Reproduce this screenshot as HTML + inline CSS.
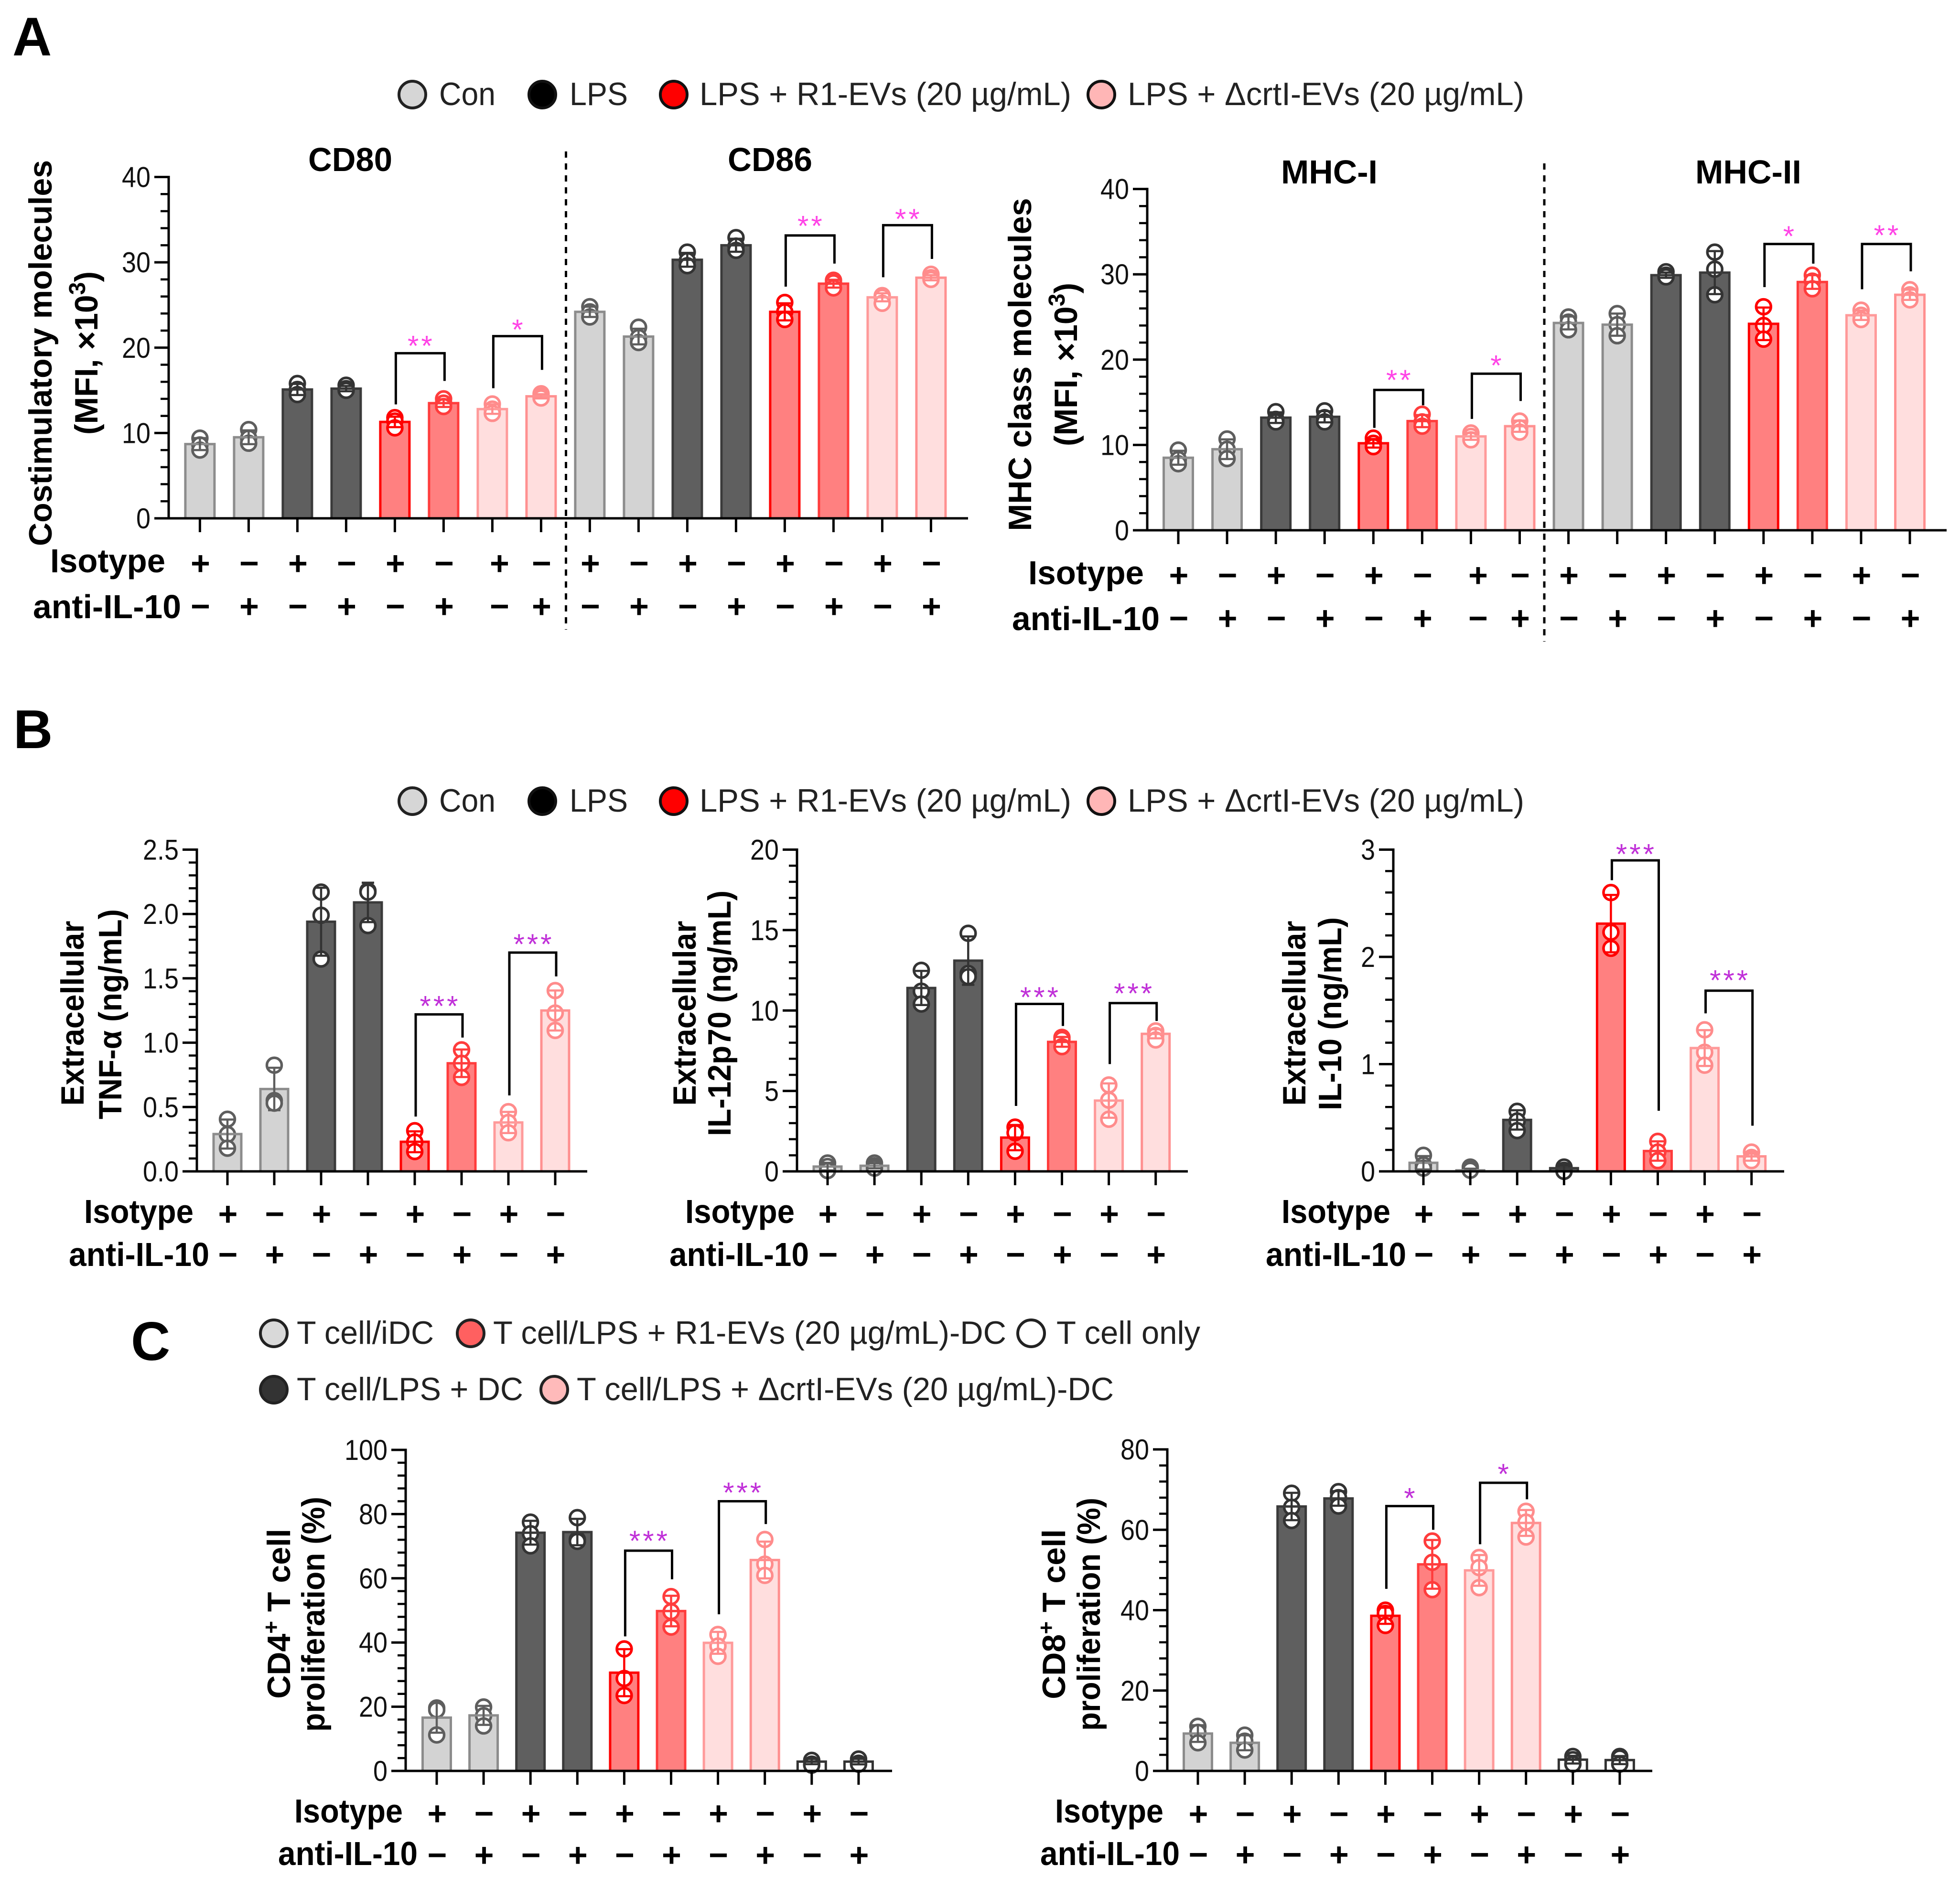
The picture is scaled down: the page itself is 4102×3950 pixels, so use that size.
<!DOCTYPE html>
<html lang="en">
<head>
<meta charset="utf-8">
<title>Costimulatory molecules, cytokines and T cell proliferation</title>
<style>
html,body{margin:0;padding:0;background:#fff;}
svg{display:block;}
text{font-family:"Liberation Sans",sans-serif;}
.b{font-weight:bold;fill:#000;}
.lg{font-size:68px;fill:#222;}
.pl{font-weight:bold;font-size:114px;fill:#000;}
.tt{font-weight:bold;font-size:70px;fill:#000;}
.yt{font-weight:bold;font-size:68px;fill:#000;text-anchor:middle;}
.yt2{font-weight:bold;font-size:68px;fill:#000;text-anchor:middle;}
.rl{font-weight:bold;font-size:70px;fill:#000;}
</style>
</head>
<body>
<svg id="fig" xmlns="http://www.w3.org/2000/svg" width="4102" height="3950" viewBox="0 0 4102 3950">
<rect width="4102" height="3950" fill="#fff"/>

<text class="pl" x="26" y="116">A</text>
<text class="pl" x="28" y="1566">B</text>
<text class="pl" x="274" y="2847">C</text>

<g>
<g><circle cx="863" cy="198" r="28" fill="#d6d6d6" stroke="#222" stroke-width="6"/><text class="lg" x="919" y="220" textLength="118" lengthAdjust="spacingAndGlyphs">Con</text></g>
<g><circle cx="1135" cy="198" r="28" fill="#000" stroke="#111" stroke-width="6"/><text class="lg" x="1192" y="220" textLength="122" lengthAdjust="spacingAndGlyphs">LPS</text></g>
<g><circle cx="1410" cy="198" r="28" fill="#ff0000" stroke="#111" stroke-width="6"/><text class="lg" x="1464" y="220" textLength="778" lengthAdjust="spacingAndGlyphs">LPS + R1-EVs (20 µg/mL)</text></g>
<g><circle cx="2305" cy="198" r="28" fill="#ffb6b6" stroke="#111" stroke-width="6"/><text class="lg" x="2360" y="220" textLength="830" lengthAdjust="spacingAndGlyphs">LPS + ΔcrtI-EVs (20 µg/mL)</text></g>
</g>

<g>
<g><circle cx="863" cy="1677" r="28" fill="#d6d6d6" stroke="#222" stroke-width="6"/><text class="lg" x="919" y="1699" textLength="118" lengthAdjust="spacingAndGlyphs">Con</text></g>
<g><circle cx="1135" cy="1677" r="28" fill="#000" stroke="#111" stroke-width="6"/><text class="lg" x="1192" y="1699" textLength="122" lengthAdjust="spacingAndGlyphs">LPS</text></g>
<g><circle cx="1410" cy="1677" r="28" fill="#ff0000" stroke="#111" stroke-width="6"/><text class="lg" x="1464" y="1699" textLength="778" lengthAdjust="spacingAndGlyphs">LPS + R1-EVs (20 µg/mL)</text></g>
<g><circle cx="2305" cy="1677" r="28" fill="#ffb6b6" stroke="#111" stroke-width="6"/><text class="lg" x="2360" y="1699" textLength="830" lengthAdjust="spacingAndGlyphs">LPS + ΔcrtI-EVs (20 µg/mL)</text></g>
</g>

<g>
<g><circle cx="573" cy="2791" r="28" fill="#d9d9d9" stroke="#222" stroke-width="6"/><text class="lg" x="621" y="2813" textLength="287" lengthAdjust="spacingAndGlyphs">T cell/iDC</text></g>
<g><circle cx="985" cy="2791" r="28" fill="#ff6060" stroke="#222" stroke-width="6"/><text class="lg" x="1032" y="2813" textLength="1074" lengthAdjust="spacingAndGlyphs">T cell/LPS + R1-EVs (20 µg/mL)-DC</text></g>
<g><circle cx="2158" cy="2791" r="28" fill="#fff" stroke="#222" stroke-width="6"/><text class="lg" x="2211" y="2813" textLength="301" lengthAdjust="spacingAndGlyphs">T cell only</text></g>
<g><circle cx="573" cy="2909" r="28" fill="#333" stroke="#222" stroke-width="6"/><text class="lg" x="621" y="2931" textLength="474" lengthAdjust="spacingAndGlyphs">T cell/LPS + DC</text></g>
<g><circle cx="1160" cy="2909" r="28" fill="#ffbaba" stroke="#222" stroke-width="6"/><text class="lg" x="1207" y="2931" textLength="1124" lengthAdjust="spacingAndGlyphs">T cell/LPS + ΔcrtI-EVs (20 µg/mL)-DC</text></g>
</g>

<!-- static chart text -->
<text class="tt" x="645" y="358" textLength="176" lengthAdjust="spacingAndGlyphs">CD80</text>
<text class="tt" x="1523" y="358" textLength="177" lengthAdjust="spacingAndGlyphs">CD86</text>
<text class="tt" x="2681" y="384" textLength="202" lengthAdjust="spacingAndGlyphs">MHC-I</text>
<text class="tt" x="3548" y="384" textLength="222" lengthAdjust="spacingAndGlyphs">MHC-II</text>

<line x1="1184.5" y1="317" x2="1184.5" y2="1318" stroke="#000" stroke-width="5" stroke-dasharray="13 12"/>
<line x1="3232" y1="342" x2="3232" y2="1343" stroke="#000" stroke-width="5" stroke-dasharray="13 12"/>

<text class="yt" transform="translate(108,739) rotate(-90)" textLength="808" lengthAdjust="spacingAndGlyphs">Costimulatory molecules</text>
<text class="yt" transform="translate(204,739) rotate(-90)">(MFI, ×10<tspan dy="-26" font-size="48">3</tspan><tspan dy="26">)</tspan></text>
<text class="yt" transform="translate(2158,763) rotate(-90)" textLength="697" lengthAdjust="spacingAndGlyphs">MHC class molecules</text>
<text class="yt" transform="translate(2254,763) rotate(-90)">(MFI, ×10<tspan dy="-26" font-size="48">3</tspan><tspan dy="26">)</tspan></text>

<text class="yt2" transform="translate(175,2121) rotate(-90)" textLength="387" lengthAdjust="spacingAndGlyphs">Extracellular</text>
<text class="yt2" transform="translate(254,2123) rotate(-90)" textLength="440" lengthAdjust="spacingAndGlyphs">TNF-α (ng/mL)</text>
<text class="yt2" transform="translate(1456,2121) rotate(-90)" textLength="387" lengthAdjust="spacingAndGlyphs">Extracellular</text>
<text class="yt2" transform="translate(1529,2121) rotate(-90)" textLength="514" lengthAdjust="spacingAndGlyphs">IL-12p70 (ng/mL)</text>
<text class="yt2" transform="translate(2732,2121) rotate(-90)" textLength="387" lengthAdjust="spacingAndGlyphs">Extracellular</text>
<text class="yt2" transform="translate(2807,2122) rotate(-90)" textLength="404" lengthAdjust="spacingAndGlyphs">IL-10 (ng/mL)</text>

<text class="yt2" transform="translate(607,3378) rotate(-90)">CD4<tspan dy="-24" font-size="46">+</tspan><tspan dy="24"> T cell</tspan></text>
<text class="yt2" transform="translate(679,3379) rotate(-90)" textLength="492" lengthAdjust="spacingAndGlyphs">proliferation (%)</text>
<text class="yt2" transform="translate(2229,3379) rotate(-90)">CD8<tspan dy="-24" font-size="46">+</tspan><tspan dy="24"> T cell</tspan></text>
<text class="yt2" transform="translate(2302,3379) rotate(-90)" textLength="488" lengthAdjust="spacingAndGlyphs">proliferation (%)</text>

<g>
<text class="rl" x="105" y="1198" textLength="241" lengthAdjust="spacingAndGlyphs">Isotype</text>
<text class="rl" x="69" y="1294" textLength="310" lengthAdjust="spacingAndGlyphs">anti-IL-10</text>
<text class="rl" x="2152" y="1223" textLength="242" lengthAdjust="spacingAndGlyphs">Isotype</text>
<text class="rl" x="2118" y="1319" textLength="309" lengthAdjust="spacingAndGlyphs">anti-IL-10</text>
<text class="rl" x="176" y="2560" textLength="229" lengthAdjust="spacingAndGlyphs">Isotype</text>
<text class="rl" x="144" y="2650" textLength="294" lengthAdjust="spacingAndGlyphs">anti-IL-10</text>
<text class="rl" x="1434" y="2560" textLength="229" lengthAdjust="spacingAndGlyphs">Isotype</text>
<text class="rl" x="1401" y="2650" textLength="292" lengthAdjust="spacingAndGlyphs">anti-IL-10</text>
<text class="rl" x="2682" y="2560" textLength="228" lengthAdjust="spacingAndGlyphs">Isotype</text>
<text class="rl" x="2649" y="2650" textLength="294" lengthAdjust="spacingAndGlyphs">anti-IL-10</text>
<text class="rl" x="616" y="3815" textLength="227" lengthAdjust="spacingAndGlyphs">Isotype</text>
<text class="rl" x="582" y="3904" textLength="292" lengthAdjust="spacingAndGlyphs">anti-IL-10</text>
<text class="rl" x="2208" y="3815" textLength="227" lengthAdjust="spacingAndGlyphs">Isotype</text>
<text class="rl" x="2177" y="3904" textLength="292" lengthAdjust="spacingAndGlyphs">anti-IL-10</text>
</g>
</svg>

<script>
// ---------- shared categories ----------
const isotype16 = ['+','−','+','−','+','−','+','−','+','−','+','−','+','−','+','−'];
const antiIL16 = ['−','+','−','+','−','+','−','+','−','+','−','+','−','+','−','+'];
const isotype8 = ['+','−','+','−','+','−','+','−'];
const antiIL8 = ['−','+','−','+','−','+','−','+'];
const isotype10 = ['+','−','+','−','+','−','+','−','+','−'];
const antiIL10 = ['−','+','−','+','−','+','−','+','−','+'];
const groups16 = ['con','con','lps','lps','r1a','r1b','cra','crb','con','con','lps','lps','r1a','r1b','cra','crb'];
const groups8 = ['con','con','lps','lps','r1a','r1b','cra','crb'];
const groups10 = ['con','con','lps','lps','r1a','r1b','cra','crb','only','only'];

// ---------- chart A left: CD80 / CD86 ----------
const costimValues = [8.7,9.5,15.1,15.2,11.3,13.5,12.8,14.3,24.2,21.3,30.3,32.0,24.2,27.5,25.9,28.2];
const costimPoints = [[9.4,8.6,8.0],[10.4,9.4,8.8],[15.8,15.1,14.5],[15.6,15.2,15.0],[11.8,11.4,10.6],[14.0,13.5,13.1],[13.4,12.8,12.3],[14.6,14.3,14.1],[24.8,24.2,23.6],[22.4,21.2,20.6],[31.2,30.2,29.6],[32.9,31.9,31.4],[25.3,24.2,23.3],[27.9,27.6,27.0],[26.1,25.9,25.2],[28.6,28.2,28.0]];
const costimTicks = [0,10,20,30,40];
const costimTickLabels = ['0','10','20','30','40'];
const costimBrackets = [[4,5,19.35,13.35,16.1,'**',20.75],[6,7,21.35,15.25,17.4,'*',22.65],[12,13,33.15,27.15,29.85,'**',34.8],[14,15,34.35,28.25,30.4,'**',35.6]];

// ---------- chart A right: MHC ----------
const mhcValues = [8.5,9.5,13.2,13.3,10.2,12.8,11.0,12.2,24.3,24.1,29.9,30.2,24.2,29.1,25.2,27.6];
const mhcPoints = [[9.4,8.3,7.8],[10.7,9.5,8.4],[13.9,13.0,12.7],[14.0,13.2,12.7],[10.8,10.2,9.8],[13.6,12.7,12.2],[11.4,11.0,10.6],[12.8,12.0,11.5],[25.0,24.4,23.5],[25.4,24.1,22.8],[30.3,29.9,29.7],[32.6,30.6,27.6],[26.2,24.0,22.4],[29.9,29.2,28.3],[25.8,25.2,24.7],[28.2,27.6,27.0]];
const mhcTicks = [0,10,20,30,40];
const mhcTickLabels = ['0','10','20','30','40'];
const mhcBrackets = [[4,5,16.45,12,14.65,'**',18.15],[6,7,18.35,13.05,15.15,'*',19.85],[12,13,33.55,28.5,31.25,'*',35],[14,15,33.55,28.25,30.35,'**',35.1]];

// ---------- chart B1: TNF-alpha ----------
const tnfValues = [0.29,0.64,1.94,2.09,0.23,0.84,0.38,1.25];
const tnfPoints = [[0.405,0.287,0.18],[0.825,0.55,0.53],[2.17,1.99,1.65],[2.18,2.17,1.91],[0.316,0.228,0.154],[0.944,0.84,0.73],[0.464,0.38,0.30],[1.405,1.23,1.095]];
const tnfTicks = [0,0.5,1,1.5,2,2.5];
const tnfTickLabels = ['0.0','0.5','1.0','1.5','2.0','2.5'];
const tnfBrackets = [[4,5,1.22,0.426,1.04,'***',1.32],[6,7,1.70,0.59,1.515,'***',1.80]];

// ---------- chart B2: IL-12p70 ----------
const il12Values = [0.3,0.35,11.4,13.1,2.1,8.05,4.4,8.55];
const il12Points = [[0.52,0.3,0.05],[0.52,0.35,0.2],[12.5,11.2,10.4],[14.8,12.3,12.1],[2.75,2.4,1.25],[8.33,8.2,7.75],[5.37,4.43,3.24],[8.73,8.45,8.17]];
const il12Ticks = [0,5,10,15,20];
const il12TickLabels = ['0','5','10','15','20'];
const il12Brackets = [[4,5,10.41,4.07,9.04,'***',11.1],[6,7,10.46,6.67,9.35,'***',11.34]];

// ---------- chart B3: IL-10 ----------
const il10Values = [0.08,0.01,0.48,0.03,2.31,0.19,1.15,0.14];
const il10Points = [[0.15,0.06,0.03],[0.04,0.02,0.01],[0.56,0.47,0.38],[0.04,0.01,0.0],[2.6,2.23,2.08],[0.28,0.18,0.1],[1.32,1.11,0.99],[0.18,0.13,0.1]];
const il10Ticks = [0,1,2,3];
const il10TickLabels = ['0','1','2','3'];
const il10Brackets = [[4,5,2.90,2.715,0.565,'***',3.0],[6,7,1.685,1.473,0.426,'***',1.825]];

// ---------- chart C1: CD4 ----------
const cd4Values = [16.6,17.3,74.2,74.4,30.6,49.8,39.9,65.7,2.9,2.9];
const cd4Points = [[19.6,19.0,11.2],[19.9,17.2,14.0],[77.5,73.9,70.1],[78.9,72.1,71.5],[38,28.8,23.5],[54.3,49.6,44.8],[42.5,38.9,35.7],[72.1,64.4,60.9],[3.3,2.1,1.8],[3.7,2.4,2.1]];
const cd4Ticks = [0,20,40,60,80,100];
const cd4TickLabels = ['0','20','40','60','80','100'];
const cd4Brackets = [[4,5,68.6,41.9,59.7,'***',73.1],[6,7,84,48.8,76.9,'***',88.1]];

// ---------- chart C2: CD8 ----------
const cd8Values = [9.3,7.0,65.8,67.8,38.6,51.4,49.9,61.7,2.8,2.7];
const cd8Points = [[11.1,9.6,7.0],[8.9,7.4,5.2],[69.1,65.6,62.3],[69.5,68,65.9],[40,39.2,36.2],[57.2,51.9,45.1],[53.1,50.6,45.6],[64.6,61.9,58.2],[3.6,2.8,1.7],[3.6,3.2,1.7]];
const cd8Ticks = [0,20,40,60,80];
const cd8TickLabels = ['0','20','40','60','80'];
const cd8Brackets = [[4,5,65.9,45.3,60,'*',69],[6,7,71.7,56.4,67.6,'*',75]];

// ---------- styles ----------
const STYLES = {
  con:{fill:'#d3d3d3',stroke:'#8c8c8c',mark:'#5e5e5e'},
  lps:{fill:'#5f5f5f',stroke:'#3a3a3a',mark:'#333333'},
  r1a:{fill:'#ff8080',stroke:'#ff0000',mark:'#ff0000'},
  r1b:{fill:'#ff8080',stroke:'#ff3c3c',mark:'#ff3c3c'},
  cra:{fill:'#ffdede',stroke:'#ff9a9a',mark:'#ff8c8c'},
  crb:{fill:'#ffdede',stroke:'#ff9090',mark:'#ff8c8c'},
  only:{fill:'#ffffff',stroke:'#333333',mark:'#333333'}
};

const SVGNS = 'http://www.w3.org/2000/svg';
const root = document.getElementById('fig');
function el(tag, attrs, parent) {
  const n = document.createElementNS(SVGNS, tag);
  for (const k in attrs) n.setAttribute(k, attrs[k]);
  parent.appendChild(n);
  return n;
}
function sdOf(a) {
  const m = a.reduce((s, v) => s + v, 0) / a.length;
  return Math.sqrt(a.reduce((s, v) => s + (v - m) * (v - m), 0) / (a.length - 1));
}
function labelWidth(s) {
  let w = 0;
  for (const ch of s) w += ch === '.' ? 15 : 30;
  return w;
}

function drawChart(c) {
  const g = el('g', {}, root);
  
  
  const yMax = c.ticks[c.ticks.length - 1];
  const y = v => c.y0 - (v / yMax) * (c.y0 - c.yTop);
  const x = i => c.x0 + i * c.dx;
  const w = c.barW;

  c.values.forEach((v, i) => {
    const st = STYLES[c.groups[i]];
    const fillRect = el('rect', {x: x(i) - w / 2, y: y(v), width: w, height: c.y0 - y(v), fill: st.fill}, g);
    
    
    c.points[i].forEach(p => {
      const dot = el('circle', {cx: x(i), cy: y(p), r: 15.5, fill: '#fff', stroke: st.mark, 'stroke-width': 5.5}, g);
      
      
    });
    const outline = el('rect', {x: x(i) - w / 2, y: y(v), width: w, height: c.y0 - y(v), fill: 'none', stroke: st.stroke, 'stroke-width': 5}, g);
    
    
    const sd = sdOf(c.points[i]);
    const capW = 13;
    const hi = y(v + sd);
    const lo = y(Math.max(0, v - sd));
    const err = el('path', {d: 'M' + x(i) + ' ' + lo + 'V' + hi + 'M' + (x(i) - capW) + ' ' + hi + 'H' + (x(i) + capW) + 'M' + (x(i) - capW) + ' ' + lo + 'H' + (x(i) + capW), fill: 'none', stroke: st.mark, 'stroke-width': 4.5}, g);
    
    
  });

  const yAxis = el('line', {x1: c.axisX, y1: c.yTop - 2.5, x2: c.axisX, y2: c.y0 + 2.5, stroke: '#000', 'stroke-width': 5}, g);
  
  
  const xAxis = el('line', {x1: c.axisX - 30, y1: c.y0, x2: c.axisEnd, y2: c.y0, stroke: '#000', 'stroke-width': 5}, g);
  
  

  c.ticks.forEach((t, i) => {
    const tk = el('line', {x1: c.axisX - 30, y1: y(t), x2: c.axisX, y2: y(t), stroke: '#000', 'stroke-width': 5}, g);
    
    
    const lb = el('text', {x: c.axisX - 38, y: y(t) + 21, 'text-anchor': 'end', 'font-size': 60, textLength: labelWidth(c.tickLabels[i]), lengthAdjust: 'spacingAndGlyphs', fill: '#111'}, g);
    lb.textContent = c.tickLabels[i];
    
    
    if (i < c.ticks.length - 1) {
      const step = (c.ticks[i + 1] - t) / 5;
      for (let m = 1; m < 5; m++) {
        const mk = el('line', {x1: c.axisX - 17, y1: y(t + m * step), x2: c.axisX, y2: y(t + m * step), stroke: '#000', 'stroke-width': 4.5}, g);
        
        
      }
    }
  });

  c.values.forEach((v, i) => {
    const tk = el('line', {x1: x(i), y1: c.y0, x2: x(i), y2: c.y0 + 29, stroke: '#000', 'stroke-width': 5}, g);
    
    
    const nudge = (c.nudge && c.nudge[i]) || 0;
    const s1 = el('text', {x: x(i) + nudge + 1, y: c.row1 + 23, 'text-anchor': 'middle', 'font-size': 70, 'font-weight': 'bold', fill: '#000'}, g);
    s1.textContent = c.isotype[i];
    
    
    const s2 = el('text', {x: x(i) + nudge + 1, y: c.row2 + 23, 'text-anchor': 'middle', 'font-size': 70, 'font-weight': 'bold', fill: '#000'}, g);
    s2.textContent = c.anti[i];
    
    
  });

  c.brackets.forEach(b => {
    const xl = x(b[0]) + 2;
    const xr = x(b[1]) + 2;
    const br = el('path', {d: 'M' + xl + ' ' + y(b[3]) + 'V' + y(b[2]) + 'H' + xr + 'V' + y(b[4]), fill: 'none', stroke: '#000', 'stroke-width': 5}, g);
    
    
    const star = el('text', {x: (xl + xr) / 2 + 2, y: y(b[6]) + 30, 'text-anchor': 'middle', 'font-size': 60, 'letter-spacing': 5, fill: c.starColor}, g);
    star.textContent = b[5];
    
    
  });
}

drawChart({name:'chart-costimulatory',values:costimValues,points:costimPoints,ticks:costimTicks,tickLabels:costimTickLabels,brackets:costimBrackets,groups:groups16,isotype:isotype16,anti:antiIL16,x0:418.4,dx:102,barW:61,yTop:370.5,y0:1085,axisX:353,axisEnd:2026,row1:1180,row2:1270,starColor:'#ff44e6',nudge:{6:14}});
drawChart({name:'chart-mhc',values:mhcValues,points:mhcPoints,ticks:mhcTicks,tickLabels:mhcTickLabels,brackets:mhcBrackets,groups:groups16,isotype:isotype16,anti:antiIL16,x0:2466,dx:102.07,barW:61,yTop:395.6,y0:1110,axisX:2401,axisEnd:4074,row1:1205,row2:1295,starColor:'#ff44e6',nudge:{6:14}});
drawChart({name:'chart-tnf-alpha',values:tnfValues,points:tnfPoints,ticks:tnfTicks,tickLabels:tnfTickLabels,brackets:tnfBrackets,groups:groups8,isotype:isotype8,anti:antiIL8,x0:476,dx:98,barW:58,yTop:1778.5,y0:2452,axisX:412,axisEnd:1229,row1:2542,row2:2627,starColor:'#c030d8'});
drawChart({name:'chart-il-12p70',values:il12Values,points:il12Points,ticks:il12Ticks,tickLabels:il12TickLabels,brackets:il12Brackets,groups:groups8,isotype:isotype8,anti:antiIL8,x0:1732,dx:98.1,barW:58,yTop:1778.5,y0:2452,axisX:1668,axisEnd:2486,row1:2542,row2:2627,starColor:'#c030d8'});
drawChart({name:'chart-il-10',values:il10Values,points:il10Points,ticks:il10Ticks,tickLabels:il10TickLabels,brackets:il10Brackets,groups:groups8,isotype:isotype8,anti:antiIL8,x0:2979,dx:98.1,barW:58,yTop:1778.5,y0:2452,axisX:2916,axisEnd:3734,row1:2542,row2:2627,starColor:'#c030d8'});
drawChart({name:'chart-cd4-proliferation',values:cd4Values,points:cd4Points,ticks:cd4Ticks,tickLabels:cd4TickLabels,brackets:cd4Brackets,groups:groups10,isotype:isotype10,anti:antiIL10,x0:914,dx:98.1,barW:59,yTop:3035,y0:3707,axisX:849,axisEnd:1867,row1:3797,row2:3884,starColor:'#c030d8'});
drawChart({name:'chart-cd8-proliferation',values:cd8Values,points:cd8Points,ticks:cd8Ticks,tickLabels:cd8TickLabels,brackets:cd8Brackets,groups:groups10,isotype:isotype10,anti:antiIL10,x0:2507,dx:98.1,barW:59,yTop:3034,y0:3707,axisX:2443,axisEnd:3458,row1:3798,row2:3883,starColor:'#c030d8'});
</script>
</body>
</html>
